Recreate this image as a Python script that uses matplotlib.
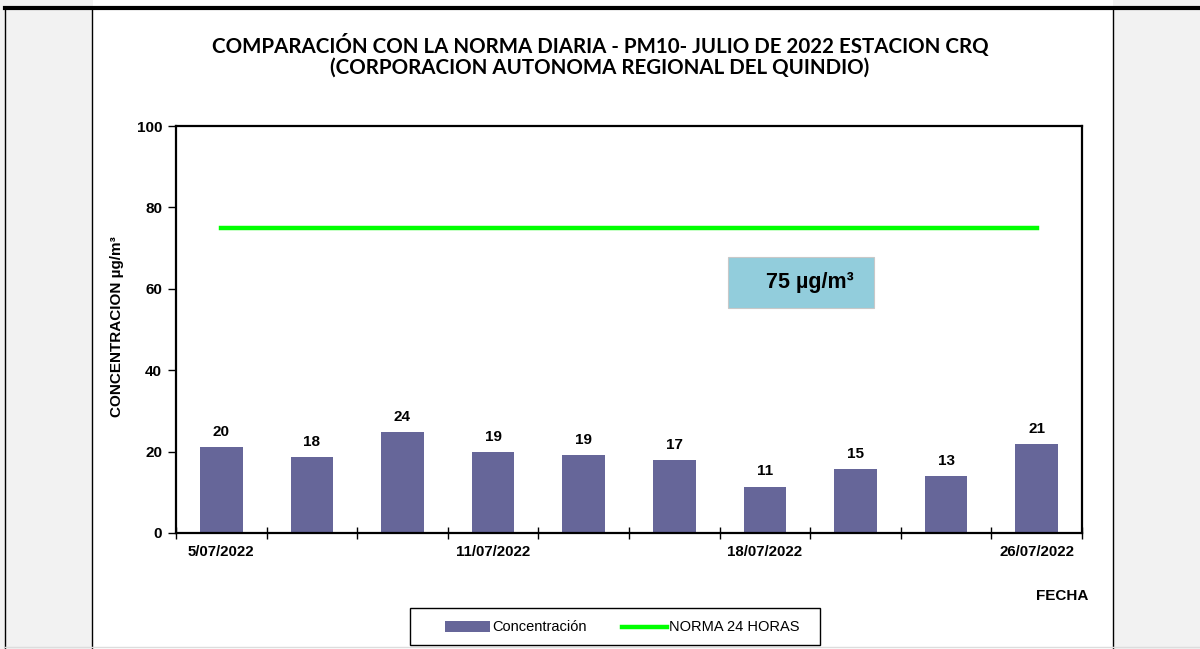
import matplotlib
matplotlib.use("Agg")
import matplotlib.pyplot as plt
from matplotlib.patches import Rectangle
from matplotlib.lines import Line2D
import numpy as np

categories = ["5/07/2022", "", "", "11/07/2022", "", "", "18/07/2022", "", "", "26/07/2022"]
concentracion = [21.1, 18.6, 24.7, 19.9, 19.2, 17.9, 11.4, 15.8, 14.0, 21.9]
value_labels = ["20", "18", "24", "19", "19", "17", "11", "15", "13", "21"]
norma = 75
legend_labels = ["Concentración", "NORMA 24 HORAS"]

title = "COMPARACIÓN CON LA NORMA DIARIA - PM10- JULIO DE 2022 ESTACION CRQ\n(CORPORACION AUTONOMA REGIONAL DEL QUINDIO)"

BAR_COLOR = "#666699"
LINE_COLOR = "#00ff00"
FONT = "Liberation Sans"

W, H = 1200, 649
fig = plt.figure(figsize=(W / 100, H / 100), dpi=100)
fig.patch.set_facecolor("white")

def fx(px):
    return px / W

def fy(py):
    return 1 - py / H

# background panels
fig.add_artist(Rectangle((0, 0), fx(93), 1, transform=fig.transFigure, facecolor="#f2f2f2", edgecolor="none", zorder=0))
fig.add_artist(Rectangle((fx(1113), 0), 1 - fx(1113), 1, transform=fig.transFigure, facecolor="#f2f2f2", edgecolor="none", zorder=0))
fig.add_artist(Line2D([fx(5), 1], [fy(8), fy(8)], transform=fig.transFigure, color="black", lw=3))
for xp in (5, 92, 1113):
    fig.add_artist(Line2D([fx(xp), fx(xp)], [fy(8), 0], transform=fig.transFigure, color="black", lw=1))
fig.add_artist(Line2D([fx(5), 1], [fy(647), fy(647)], transform=fig.transFigure, color="#dddddd", lw=1))

ax = fig.add_axes([fx(176), fy(533), (1082 - 176) / W, (533 - 126) / H])
x = np.arange(len(concentracion))
ax.bar(x, concentracion, width=0.47, color=BAR_COLOR, zorder=2)
ax.plot([x[0], x[-1]], [norma, norma], color=LINE_COLOR, lw=3.2, solid_capstyle="projecting", zorder=3)

for xi, v, lab in zip(x, concentracion, value_labels):
    ax.text(xi, v + 2.0, lab, ha="center", va="bottom", fontsize=11, fontweight="bold", family=FONT)

ax.set_xlim(-0.5, len(concentracion) - 0.5)
ax.set_ylim(0, 100)
ax.set_yticks([0, 20, 40, 60, 80, 100])
ax.set_yticklabels(["0", "20", "40", "60", "80", "100"], fontsize=11, fontweight="bold", family=FONT)
ax.tick_params(axis="y", direction="out", length=6, width=1, pad=4)

ax.set_xticks(x)
ax.set_xticklabels(categories, fontsize=10.8, fontweight="bold", family=FONT)
ax.tick_params(axis="x", which="major", length=0, pad=9)
ax.set_xticks(np.arange(-0.5, len(concentracion), 1.0), minor=True)
ax.tick_params(axis="x", which="minor", direction="inout", length=8, width=1)

for s in ax.spines.values():
    s.set_linewidth(1.6)
    s.set_color("black")

# norm text box
bx0 = (728 - 176) / 90.6 - 0.5
bx1 = (874 - 176) / 90.6 - 0.5
by0 = (533 - 308) / 4.07
by1 = (533 - 257) / 4.07
ax.add_patch(Rectangle((bx0, by0), bx1 - bx0, by1 - by0, facecolor="#92cddc", edgecolor="#c8c8c8", lw=0.8, zorder=4))
ax.text((766 - 176) / 90.6 - 0.5, (by0 + by1) / 2, "75 µg/m³", ha="left", va="center",
        fontsize=15.5, fontweight="bold", family=FONT, zorder=5)

fig.text(fx(600), fy(56), title, ha="center", va="center", fontsize=14.8, fontweight="bold",
         family="Lato", linespacing=1.05)

fig.text(fx(117), fy(327), "CONCENTRACION µg/m³", rotation=90, ha="center", va="center",
         fontsize=11, fontweight="bold", family=FONT)
fig.text(fx(1062), fy(596), "FECHA", ha="center", va="center", fontsize=11, fontweight="bold", family=FONT)

# legend (drawn manually to match box geometry)
fig.add_artist(Rectangle((fx(410), fy(645)), fx(820) - fx(410), fy(608) - fy(645), transform=fig.transFigure,
                         facecolor="white", edgecolor="black", lw=1.0, zorder=5))
fig.add_artist(Rectangle((fx(445), fy(632)), fx(490) - fx(445), fy(621) - fy(632), transform=fig.transFigure,
                         facecolor=BAR_COLOR, edgecolor="none", zorder=6))
fig.text(fx(492), fy(627), legend_labels[0], ha="left", va="center", fontsize=10.5, family=FONT, zorder=6)
fig.add_artist(Line2D([fx(622), fx(667)], [fy(627), fy(627)], transform=fig.transFigure,
                      color=LINE_COLOR, lw=3.2, zorder=6))
fig.text(fx(669), fy(627), legend_labels[1], ha="left", va="center", fontsize=10.5, family=FONT, zorder=6)

fig.savefig("out.png", dpi=100)
